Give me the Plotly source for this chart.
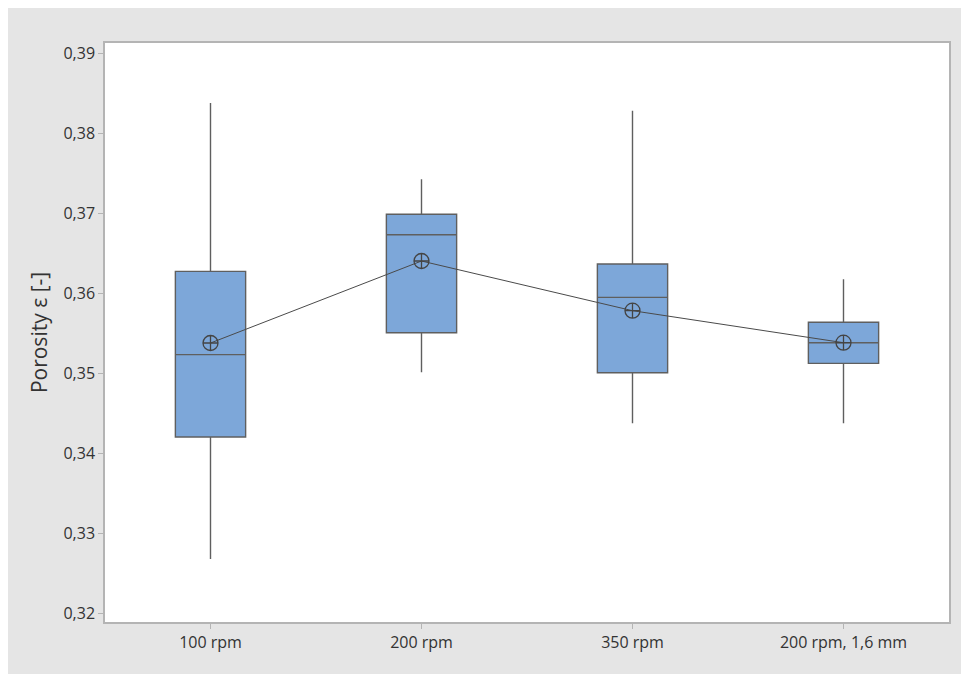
import plotly.graph_objects as go

categories = ["100 rpm", "200 rpm", "350 rpm", "200 rpm, 1,6 mm"]
upper_whisker = [0.38375, 0.37421, 0.38279, 0.36171]
q3_values = [0.36270, 0.36984, 0.36363, 0.35634]
median_values = [0.35230, 0.36729, 0.35946, 0.35379]
q1_values = [0.34200, 0.35504, 0.35004, 0.35121]
lower_whisker = [0.32675, 0.35009, 0.34371, 0.34371]
mean_values = [0.35375, 0.36400, 0.35779, 0.35379]
y_ticks = [0.32, 0.33, 0.34, 0.35, 0.36, 0.37, 0.38, 0.39]

FONT = "Open Sans"
TXT = "#333333"

fig = go.Figure()

fig.add_trace(go.Box(
    x=categories,
    q1=q1_values,
    median=median_values,
    q3=q3_values,
    lowerfence=lower_whisker,
    upperfence=upper_whisker,
    width=0.333,
    whiskerwidth=0,
    fillcolor="#7DA7D9",
    line=dict(color="#5F5F5F", width=1.4),
    showlegend=False,
    hoverinfo="skip",
))

fig.add_trace(go.Scatter(
    x=categories,
    y=mean_values,
    mode="lines+markers",
    line=dict(color="#4A4A4A", width=1),
    marker=dict(symbol="circle-cross-open", size=15, color="#444444",
                line=dict(width=1.3, color="#444444")),
    showlegend=False,
    hoverinfo="skip",
))

fig.update_layout(
    width=969, height=674,
    margin=dict(l=97, r=28, t=35, b=60),
    paper_bgcolor="#E5E5E5",
    plot_bgcolor="#FFFFFF",
    separators=",.",
    font=dict(family=FONT, color=TXT),
)

fig.update_xaxes(
    range=[-0.5, 3.5],
    showline=True, mirror=True, linecolor="#B4B4B4", linewidth=1.5,
    ticks="outside", ticklen=5, tickcolor="#B4B4B4",
    tickfont=dict(size=16, color=TXT, family=FONT),
    showgrid=False, zeroline=False,
)
fig.update_yaxes(
    range=[0.31888, 0.39125],
    tickvals=y_ticks, tickformat=".2f",
    showline=True, mirror=True, linecolor="#B4B4B4", linewidth=1.5,
    ticks="outside", ticklen=5, tickcolor="#B4B4B4",
    tickfont=dict(size=16, color=TXT, family=FONT),
    showgrid=False, zeroline=False,
    title=dict(text="Porosity ε [-]", font=dict(size=21, color=TXT, family=FONT), standoff=10),
)

fig.write_html("out.html")
